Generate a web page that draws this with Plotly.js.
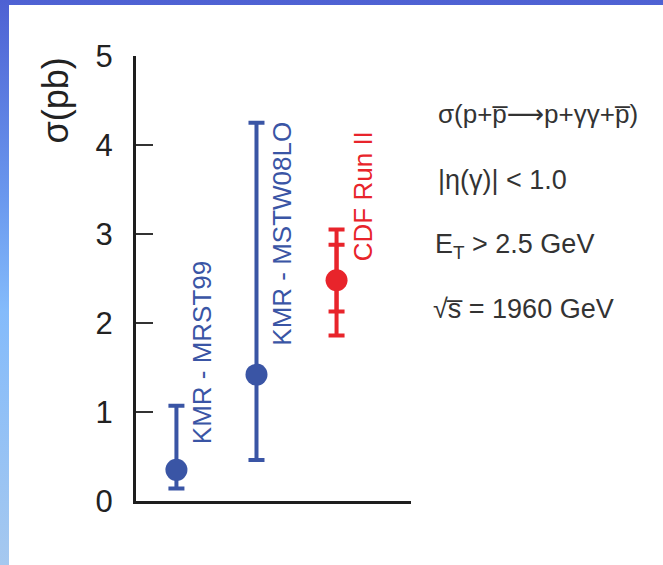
<!DOCTYPE html>
<html>
<head>
<meta charset="utf-8">
<script src="https://cdn.plot.ly/plotly-3.0.1.min.js"></script>
<style>
  html, body { margin: 0; padding: 0; }
  body {
    width: 663px; height: 565px; overflow: hidden; position: relative;
    background: linear-gradient(to bottom, #4e61d3 0%, #6a98ee 35%, #84bbfb 55%, #a5c8ef 100%);
  }
  #chart { position: absolute; left: 9px; top: 5px; width: 654px; height: 560px; background: #ffffff; }
</style>
</head>
<body>
<div id="chart"></div>
<script>
// Diphoton exclusive cross sections: KMR predictions vs. CDF Run II measurement
const categories = ['KMR - MRST99', 'KMR - MSTW08LO', 'CDF Run II'];
const sigmaPb = [0.35, 1.42, 2.48];
const totalErrPlus = [0.72, 2.83, 0.57];
const totalErrMinus = [0.21, 0.96, 0.62];
const statErrPlus = [0.40];
const statErrMinus = [0.35];
const yTicks = [0, 1, 2, 3, 4, 5];
const yTickText = ['0', '1', '2', '3', '4', '5'];
const yTitle = 'σ(pb)';
const cutLines = [
  'σ(p+p\u0305<span style="font-family:DejaVu Sans">⟶</span>p+γγ+p\u0305)',
  '|η(γ)| < 1.0',
  'E<sub>T</sub> > 2.5 GeV',
  '√s\u0305 = 1960 GeV'
];

const BLUE = '#3a55a5';
const RED = '#e8242b';
const FONT = 'Liberation Sans, Arial, Helvetica, sans-serif';

// plot area in page pixels (the chart div is offset by 9,5)
const W = 654, H = 560, OX = 9, OY = 5;
const L = 127, R = 252, T = 51, B = 64;
const pw = W - L - R, ph = H - T - B;
const px = x => (x - OX - L) / pw;
const py = y => (H - B - (y - OY)) / ph;

const traces = [
  {
    x: categories.slice(0, 2), y: sigmaPb.slice(0, 2),
    type: 'scatter', mode: 'markers',
    marker: { color: BLUE, size: 22 },
    error_y: { type: 'data', symmetric: false,
      array: totalErrPlus.slice(0, 2), arrayminus: totalErrMinus.slice(0, 2),
      color: BLUE, thickness: 4, width: 8 },
    hoverinfo: 'skip'
  },
  {
    x: categories.slice(2), y: sigmaPb.slice(2),
    type: 'scatter', mode: 'markers',
    marker: { color: 'rgba(0,0,0,0)', size: 2 },
    error_y: { type: 'data', symmetric: false,
      array: statErrPlus, arrayminus: statErrMinus,
      color: RED, thickness: 4, width: 8 },
    hoverinfo: 'skip'
  },
  {
    x: categories.slice(2), y: sigmaPb.slice(2),
    type: 'scatter', mode: 'markers',
    marker: { color: RED, size: 22 },
    error_y: { type: 'data', symmetric: false,
      array: totalErrPlus.slice(2), arrayminus: totalErrMinus.slice(2),
      color: RED, thickness: 4, width: 8 },
    hoverinfo: 'skip'
  }
];

const annotations = [
  { text: yTitle, x: px(55), y: py(100.5), textangle: -90, size: 36, color: '#222222', anchor: 'center' },
  { text: categories[0], x: px(201.7), y: py(352.5), textangle: -90, size: 26, color: BLUE, anchor: 'center' },
  { text: categories[1], x: px(281.7), y: py(234), textangle: -90, size: 26, color: BLUE, anchor: 'center' },
  { text: categories[2], x: px(362.5), y: py(196.7), textangle: -90, size: 26, color: RED, anchor: 'center' },
  { text: cutLines[0], x: px(436), y: py(114), textangle: 0, size: 26, color: '#333333', anchor: 'left' },
  { text: cutLines[1], x: px(436), y: py(180), textangle: 0, size: 27, color: '#333333', anchor: 'left' },
  { text: cutLines[2], x: px(433), y: py(246), textangle: 0, size: 27, color: '#333333', anchor: 'left' },
  { text: cutLines[3], x: px(431), y: py(309), textangle: 0, size: 27, color: '#333333', anchor: 'left' }
].map(a => ({
  text: a.text, x: a.x, y: a.y, xref: 'paper', yref: 'paper',
  xanchor: a.anchor, yanchor: 'middle', textangle: a.textangle,
  showarrow: false, font: { family: FONT, size: a.size, color: a.color }
}));

const layout = {
  width: W, height: H,
  margin: { l: L, r: R, t: T, b: B, pad: 0 },
  paper_bgcolor: '#ffffff', plot_bgcolor: '#ffffff',
  showlegend: false,
  xaxis: {
    type: 'category', categoryorder: 'array', categoryarray: categories,
    range: [-0.505, 2.93], showline: true, linewidth: 3, linecolor: '#1e1e1e',
    showgrid: false, zeroline: false, ticks: '', showticklabels: false, fixedrange: true
  },
  yaxis: {
    range: [0, 5], tickvals: yTicks, ticktext: yTickText,
    ticks: 'inside', ticklen: 17, tickwidth: 2, tickcolor: '#333333',
    showline: true, linewidth: 3, linecolor: '#1e1e1e',
    showgrid: false, zeroline: false, ticklabelstandoff: 14,
    tickfont: { family: FONT, size: 31, color: '#222222' }, fixedrange: true
  },
  annotations: annotations
};

Plotly.newPlot('chart', traces, layout, { displayModeBar: false, staticPlot: true });
</script>
</body>
</html>
